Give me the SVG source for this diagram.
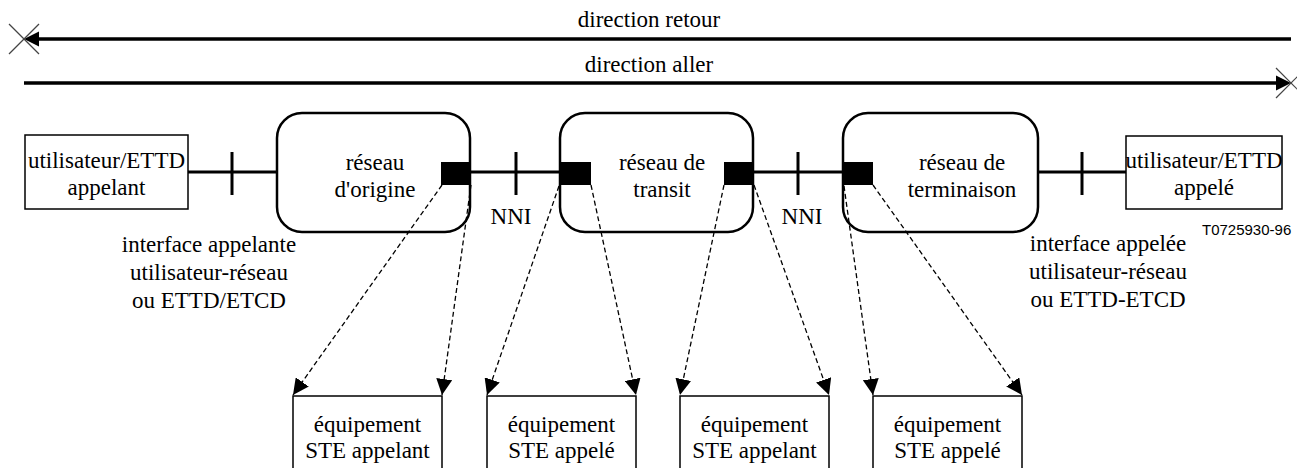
<svg xmlns="http://www.w3.org/2000/svg" width="1297" height="468" viewBox="0 0 1297 468">
<style>
text{font-family:"Liberation Serif","Times New Roman",serif;font-size:23px;fill:#000;text-anchor:middle}
.box{fill:#fff;stroke:#000;stroke-width:1.5}
.net{fill:#fff;stroke:#000;stroke-width:2.5}
.sq{fill:#000}
.thick{stroke:#000;stroke-width:3.5;fill:none}
.link{stroke:#000;stroke-width:3;fill:none}
.dash{stroke:#000;stroke-width:1.3;fill:none;stroke-dasharray:5 3}
.cross{stroke:#444;stroke-width:1.2}
.code{font-family:"Liberation Sans",Arial,sans-serif;font-size:15px;text-anchor:start}
</style>
<defs>
<marker id="ah" markerUnits="userSpaceOnUse" markerWidth="16" markerHeight="16" refX="16" refY="8" orient="auto">
<path d="M0,0 L16,8 L0,16 z" fill="#000"/>
</marker>
</defs>

<g id="direction-retour">
<line class="thick" x1="36" y1="39" x2="1291" y2="39"/>
<path d="M24,39 L39,31.5 L39,46.5 z" fill="#000"/>
<line class="cross" x1="9" y1="24" x2="39" y2="54"/>
<line class="cross" x1="39" y1="24" x2="9" y2="54"/>
<text x="649" y="27">direction retour</text>
</g>
<g id="direction-aller">
<line class="thick" x1="24" y1="83" x2="1279" y2="83"/>
<path d="M1291,83 L1276,75.5 L1276,90.5 z" fill="#000"/>
<line class="cross" x1="1276" y1="68" x2="1306" y2="98"/>
<line class="cross" x1="1306" y1="68" x2="1276" y2="98"/>
<text x="649" y="72">direction aller</text>
</g>

<g id="links">
<line class="link" x1="188" y1="172" x2="277" y2="172"/>
<line class="link" x1="232" y1="152" x2="232" y2="195"/>
<line class="link" x1="470" y1="172" x2="560" y2="172"/>
<line class="link" x1="516" y1="152" x2="516" y2="195"/>
<line class="link" x1="753" y1="172" x2="843" y2="172"/>
<line class="link" x1="798" y1="152" x2="798" y2="195"/>
<line class="link" x1="1038" y1="172" x2="1126" y2="172"/>
<line class="link" x1="1082" y1="152" x2="1082" y2="195"/>
</g>

<g id="user-appelant">
<rect class="box" x="25" y="135" width="163" height="74"/>
<text x="106.5" y="168">utilisateur/ETTD</text>
<text x="106.5" y="195">appelant</text>
</g>

<g id="reseau-origine">
<rect class="net" x="277" y="113" width="193" height="119" rx="25" ry="25"/>
<rect class="sq" x="441" y="162" width="30" height="23"/>
<text x="375" y="170">réseau</text>
<text x="375" y="197">d'origine</text>
</g>

<g id="reseau-transit">
<rect class="net" x="560" y="113" width="193" height="119" rx="25" ry="25"/>
<rect class="sq" x="559" y="162" width="32" height="23"/>
<rect class="sq" x="724" y="162" width="30" height="23"/>
<text x="662" y="170">réseau de</text>
<text x="662" y="197">transit</text>
</g>

<g id="reseau-terminaison">
<rect class="net" x="843" y="113" width="195" height="119" rx="25" ry="25"/>
<rect class="sq" x="842" y="162" width="31" height="23"/>
<text x="962" y="170">réseau de</text>
<text x="962" y="197">terminaison</text>
</g>

<g id="user-appele">
<rect class="box" x="1126" y="136" width="156" height="73"/>
<text x="1204" y="168">utilisateur/ETTD</text>
<text x="1204" y="195">appelé</text>
</g>

<g id="nni-1"><text x="511" y="224">NNI</text></g>
<g id="nni-2"><text x="802" y="224">NNI</text></g>

<g id="interface-appelante">
<text x="209" y="252">interface appelante</text>
<text x="209" y="280">utilisateur-réseau</text>
<text x="209" y="308">ou ETTD/ETCD</text>
</g>

<g id="interface-appelee">
<text x="1108" y="251">interface appelée</text>
<text x="1108" y="279">utilisateur-réseau</text>
<text x="1108" y="307">ou ETTD-ETCD</text>
</g>

<g id="ref-code"><text class="code" x="1202" y="235">T0725930-96</text></g>

<g id="ste-1">
<rect class="box" x="293" y="396" width="149" height="90"/>
<text x="367.5" y="432">équipement</text>
<text x="367.5" y="458">STE appelant</text>
</g>
<g id="ste-2">
<rect class="box" x="487" y="396" width="149" height="90"/>
<text x="561.5" y="432">équipement</text>
<text x="561.5" y="458">STE appelé</text>
</g>
<g id="ste-3">
<rect class="box" x="680" y="396" width="149" height="90"/>
<text x="754.5" y="432">équipement</text>
<text x="754.5" y="458">STE appelant</text>
</g>
<g id="ste-4">
<rect class="box" x="873" y="396" width="149" height="90"/>
<text x="947.5" y="432">équipement</text>
<text x="947.5" y="458">STE appelé</text>
</g>

<g id="connectors">
<line class="dash" x1="442" y1="185" x2="293" y2="395" marker-end="url(#ah)"/>
<line class="dash" x1="471" y1="185" x2="442" y2="395" marker-end="url(#ah)"/>
<line class="dash" x1="559" y1="186" x2="487" y2="395" marker-end="url(#ah)"/>
<line class="dash" x1="591" y1="185" x2="636" y2="395" marker-end="url(#ah)"/>
<line class="dash" x1="724" y1="185" x2="680" y2="395" marker-end="url(#ah)"/>
<line class="dash" x1="754" y1="185" x2="829" y2="395" marker-end="url(#ah)"/>
<line class="dash" x1="844" y1="186" x2="873" y2="395" marker-end="url(#ah)"/>
<line class="dash" x1="873" y1="185" x2="1022" y2="395" marker-end="url(#ah)"/>
</g>
</svg>
